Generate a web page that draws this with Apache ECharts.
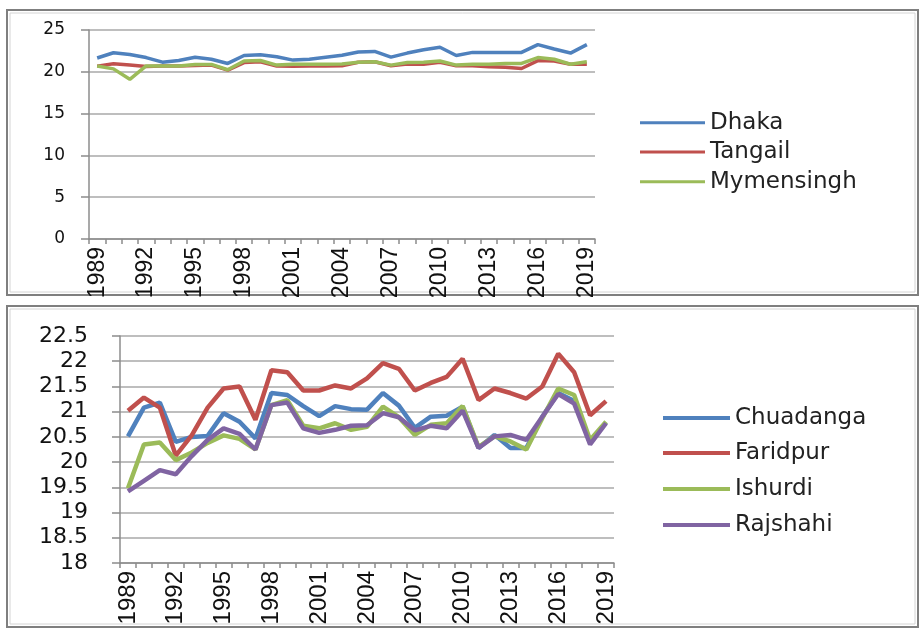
<!DOCTYPE html>
<html>
<head>
<meta charset="utf-8">
<script src="https://cdn.jsdelivr.net/npm/echarts@6/dist/echarts.min.js"></script>
<style>
html,body{margin:0;padding:0;background:#fff;}
#c{width:920px;height:629px;}
</style>
</head>
<body>
<div id="c"></div>
<script>
const years = ['1989','1990','1991','1992','1993','1994','1995','1996','1997','1998','1999','2000','2001','2002','2003','2004','2005','2006','2007','2008','2009','2010','2011','2012','2013','2014','2015','2016','2017','2018','2019'];

const dhaka = [21.65,22.28,22.08,21.7,21.15,21.35,21.75,21.5,21.0,21.95,22.05,21.8,21.4,21.5,21.75,21.98,22.36,22.44,21.75,22.24,22.64,22.93,21.95,22.32,22.32,22.32,22.32,23.25,22.72,22.24,23.25];
const tangail = [20.68,20.95,20.8,20.62,20.7,20.7,20.75,20.8,20.2,21.1,21.2,20.7,20.65,20.7,20.7,20.73,21.14,21.2,20.73,20.93,20.9,21.14,20.73,20.73,20.6,20.53,20.4,21.34,21.3,20.9,20.9];
const mymensingh = [20.7,20.35,19.1,20.7,20.7,20.7,20.88,20.88,20.25,21.3,21.35,20.8,20.9,20.9,20.9,20.93,21.14,21.2,20.8,21.1,21.14,21.3,20.8,20.9,20.9,21.0,21.0,21.7,21.5,20.9,21.2];

const chuadanga = [20.51,21.08,21.18,20.4,20.5,20.52,20.97,20.8,20.47,21.37,21.33,21.11,20.91,21.11,21.05,21.04,21.37,21.12,20.68,20.9,20.92,21.1,20.28,20.54,20.28,20.28,20.9,21.37,21.21,20.38,20.79];
const faridpur = [21.02,21.28,21.08,20.13,20.53,21.08,21.46,21.5,20.84,21.82,21.78,21.42,21.42,21.52,21.46,21.66,21.96,21.85,21.42,21.57,21.69,22.05,21.23,21.46,21.37,21.26,21.5,22.15,21.78,20.93,21.21];
const ishurdi = [19.48,20.35,20.39,20.04,20.19,20.38,20.53,20.46,20.25,21.13,21.23,20.72,20.67,20.77,20.64,20.7,21.1,20.89,20.54,20.74,20.77,21.11,20.3,20.51,20.41,20.25,20.87,21.46,21.33,20.44,20.8];
const rajshahi = [19.42,19.63,19.84,19.76,20.12,20.44,20.67,20.56,20.25,21.13,21.18,20.67,20.58,20.64,20.72,20.73,20.97,20.89,20.63,20.72,20.67,21.02,20.28,20.51,20.54,20.44,20.9,21.35,21.16,20.35,20.77];

const topNames = ['Dhaka','Tangail','Mymensingh'];
const botNames = ['Chuadanga','Faridpur','Ishurdi','Rajshahi'];

const BLUE = '#4F81BD', RED = '#C0504D', GREEN = '#9BBB59', PURPLE = '#8064A2';
const AX = '#8c8c8c', GRIDC = '#a8a8a8';

function xAxisFor(gi, fs) {
  return {
    type: 'category', gridIndex: gi, data: years, boundaryGap: true,
    axisLine: { show: true, lineStyle: { color: AX, width: 1.5 } },
    axisTick: { show: true, alignWithLabel: false, interval: 0, length: 5, lineStyle: { color: AX, width: 1.5 } },
    axisLabel: { interval: 2, rotate: 90, margin: 8, color: '#111', fontSize: fs,
      fontFamily: '"Liberation Sans Narrow", "Liberation Sans", sans-serif' },
    splitLine: { show: false }
  };
}
function yAxisFor(gi, min, max, interval, fs, margin) {
  return {
    type: 'value', gridIndex: gi, min: min, max: max, interval: interval,
    axisLine: { show: true, lineStyle: { color: AX, width: 1.5 } },
    axisTick: { show: true, length: 8, lineStyle: { color: AX, width: 1.5 } },
    axisLabel: { margin: margin, color: '#111', fontSize: fs, fontFamily: '"DejaVu Sans", sans-serif' },
    splitLine: { show: true, lineStyle: { color: GRIDC, width: 1.5 } }
  };
}
function lineSeries(name, data, color, gi, w) {
  return {
    type: 'line', name: name, data: data, xAxisIndex: gi, yAxisIndex: gi,
    showSymbol: false, symbol: 'none', smooth: false,
    lineStyle: { color: color, width: w }, itemStyle: { color: color },
    emphasis: { disabled: true }, animation: false
  };
}
function legendFor(name, left, cy, fs, w, h) {
  return {
    data: [name], left: left, top: cy - 13, orient: 'vertical',
    icon: 'rect', itemWidth: w, itemHeight: h, selectedMode: false, padding: 0,
    textStyle: { fontSize: fs, lineHeight: 26, color: '#222', fontFamily: '"DejaVu Sans", sans-serif' }
  };
}

const chart = echarts.init(document.getElementById('c'), null, { renderer: 'canvas' });
chart.setOption({
  animation: false,
  backgroundColor: '#ffffff',
  graphic: [
    { type: 'rect', shape: { x: 7, y: 10, width: 911, height: 285 }, style: { fill: 'none', stroke: '#7f7f7f', lineWidth: 2 }, silent: true },
    { type: 'rect', shape: { x: 10, y: 13, width: 905, height: 279 }, style: { fill: 'none', stroke: '#d4d4d4', lineWidth: 1 }, silent: true },
    { type: 'rect', shape: { x: 7, y: 306, width: 911, height: 321 }, style: { fill: 'none', stroke: '#7f7f7f', lineWidth: 2 }, silent: true },
    { type: 'rect', shape: { x: 10, y: 309, width: 905, height: 315 }, style: { fill: 'none', stroke: '#d4d4d4', lineWidth: 1 }, silent: true }
  ],
  grid: [
    { left: 89, top: 30, width: 506, height: 209 },
    { left: 120, top: 336, width: 494, height: 227 }
  ],
  xAxis: [xAxisFor(0, 23), xAxisFor(1, 24)],
  yAxis: [yAxisFor(0, 0, 25, 5, 17, 24), yAxisFor(1, 18, 22.5, 0.5, 22, 32)],
  legend: [
    legendFor(topNames[0], 640, 122.7, 23, 65, 3),
    legendFor(topNames[1], 640, 152, 23, 65, 3),
    legendFor(topNames[2], 640, 181.7, 23, 65, 3),
    legendFor(botNames[0], 663, 418, 23, 67, 4),
    legendFor(botNames[1], 663, 453, 23, 67, 4),
    legendFor(botNames[2], 663, 489, 23, 67, 4),
    legendFor(botNames[3], 663, 525, 23, 67, 4)
  ],
  series: [
    lineSeries(topNames[0], dhaka, BLUE, 0, 3.5),
    lineSeries(topNames[1], tangail, RED, 0, 3.5),
    lineSeries(topNames[2], mymensingh, GREEN, 0, 3.5),
    lineSeries(botNames[0], chuadanga, BLUE, 1, 4.5),
    lineSeries(botNames[1], faridpur, RED, 1, 4.5),
    lineSeries(botNames[2], ishurdi, GREEN, 1, 4.5),
    lineSeries(botNames[3], rajshahi, PURPLE, 1, 4.5)
  ]
});
</script>
</body>
</html>
